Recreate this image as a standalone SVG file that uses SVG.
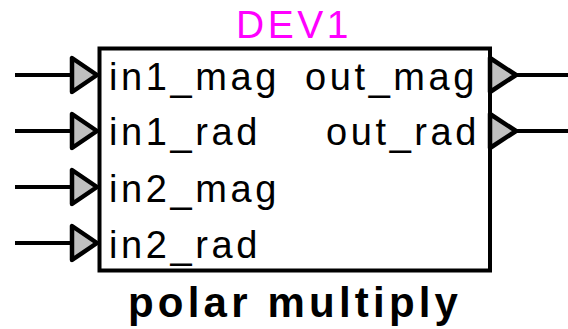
<svg xmlns="http://www.w3.org/2000/svg" width="568" height="329" viewBox="0 0 568 329">
<style>
.lbl{font-family:"Liberation Sans",Arial,sans-serif;font-size:38px;letter-spacing:3.6px;fill:#000}
.title{font-family:"Liberation Sans",Arial,sans-serif;font-size:39px;letter-spacing:3.5px;fill:#ff00ff}
.name{font-family:"Liberation Sans",Arial,sans-serif;font-size:42px;font-weight:bold;letter-spacing:4.2px;fill:#000}
.wire{stroke:#000;stroke-width:4;fill:none}
.pin{fill:#c0c0c0;stroke:#000;stroke-width:4.5;stroke-linejoin:round}
</style>
<rect width="568" height="329" fill="#fff"/>
<g id="connectors">
<line class="wire" x1="15" y1="75" x2="72" y2="75"/>
<line class="wire" x1="15" y1="131" x2="72" y2="131"/>
<line class="wire" x1="15" y1="187" x2="72" y2="187"/>
<line class="wire" x1="15" y1="243" x2="72" y2="243"/>
<line class="wire" x1="515" y1="75" x2="568" y2="75"/>
<line class="wire" x1="515" y1="131" x2="568" y2="131"/>
</g>
<g id="DEV1">
<text class="title" x="236" y="38">DEV1</text>
<rect x="99.5" y="48.5" width="390.5" height="222" fill="#fff" stroke="#000" stroke-width="4"/>
<polygon class="pin" points="72,58 72,92 97,75"/>
<polygon class="pin" points="72,114 72,148 97,131"/>
<polygon class="pin" points="72,170 72,204 97,187"/>
<polygon class="pin" points="72,226 72,260 97,243"/>
<polygon class="pin" points="490,58 490,92 516,75"/>
<polygon class="pin" points="490,114 490,148 516,131"/>
<text class="lbl" x="109" y="90">in1_mag</text>
<text class="lbl" x="109" y="145">in1_rad</text>
<text class="lbl" x="109" y="202">in2_mag</text>
<text class="lbl" x="109" y="258">in2_rad</text>
<text class="lbl" x="305" y="90">out_mag</text>
<text class="lbl" x="326" y="145">out_rad</text>
<text class="name" x="128" y="317">polar multiply</text>
</g>
</svg>
